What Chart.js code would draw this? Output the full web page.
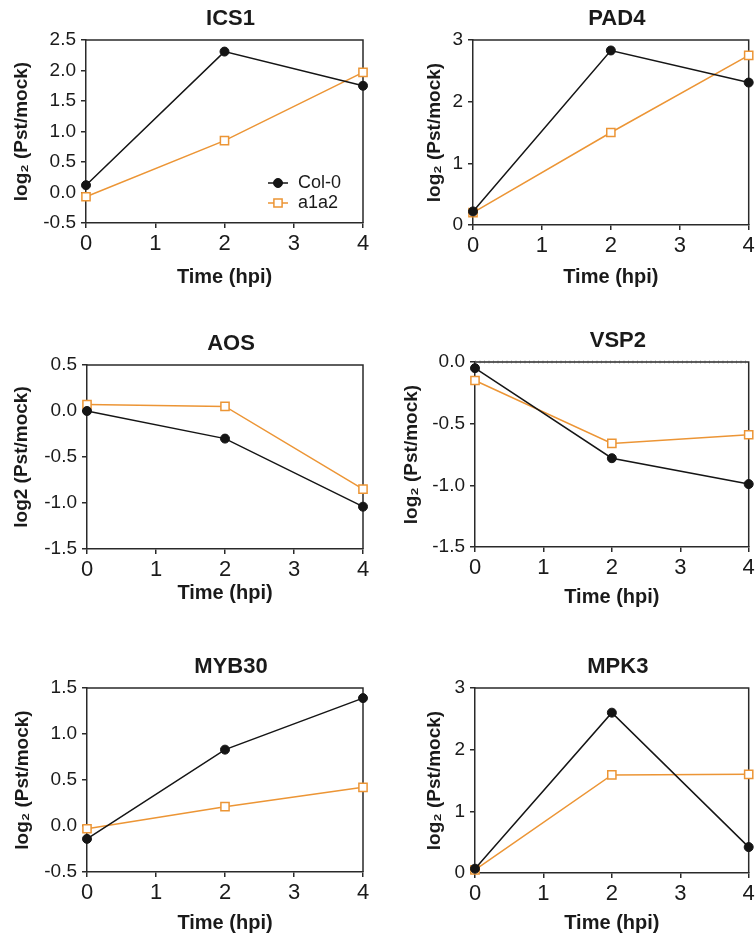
<!DOCTYPE html>
<html>
<head>
<meta charset="utf-8">
<script src="https://cdn.jsdelivr.net/npm/chart.js@4.4.1/dist/chart.umd.min.js"></script>
<style>
  body { margin: 0; background: #fff; }
  #wrap { position: relative; width: 756px; height: 941px; overflow: hidden; }
  canvas { position: absolute; }
</style>
</head>
<body>
<div id="wrap"></div>
<script>
// time points (hpi) and axis ticks
const timePoints = [0, 2, 4];
const timeTicks = [0, 1, 2, 3, 4];
const seriesNames = ['Col-0', 'a1a2'];

// log2(Pst/mock) values
const ics1Col0 = [0.12, 2.31, 1.75];
const ics1A1a2 = [-0.07, 0.85, 1.97];
const ics1Ticks = [-0.5, 0, 0.5, 1, 1.5, 2, 2.5];

const pad4Col0 = [0.22, 2.83, 2.31];
const pad4A1a2 = [0.2, 1.5, 2.75];
const pad4Ticks = [0, 1, 2, 3];

const aosCol0 = [0.0, -0.3, -1.04];
const aosA1a2 = [0.07, 0.05, -0.85];
const aosTicks = [-1.5, -1, -0.5, 0, 0.5];

const vsp2Col0 = [-0.05, -0.78, -0.99];
const vsp2A1a2 = [-0.15, -0.66, -0.59];
const vsp2Ticks = [-1.5, -1, -0.5, 0];

const myb30Col0 = [-0.14, 0.83, 1.39];
const myb30A1a2 = [-0.03, 0.21, 0.42];
const myb30Ticks = [-0.5, 0, 0.5, 1, 1.5];

const mpk3Col0 = [0.07, 2.6, 0.42];
const mpk3A1a2 = [0.05, 1.59, 1.6];
const mpk3Ticks = [0, 1, 2, 3];

const BLACK = '#151515';
const ORANGE = '#EC9535';
const AXIS = '#2a2a2a';
const LOG2 = 'log\u2082 (Pst/mock)';

Chart.defaults.font.family = '"Liberation Sans", Arial, sans-serif';
Chart.defaults.color = '#1a1a1a';

// box = canvas placement, area = plot area inside the canvas
const panels = [
  { title: 'ICS1', col0: ics1Col0, a1a2: ics1A1a2, yTicks: ics1Ticks, digits: 1, yTitle: LOG2, legend: true,
    box: { x: 0, y: 0, w: 378, h: 300 }, area: { l: 86, r: 363, t: 40, b: 223 }, yTitleX: 22, xTitleY: 277 },
  { title: 'PAD4', col0: pad4Col0, a1a2: pad4A1a2, yTicks: pad4Ticks, digits: 0, yTitle: LOG2,
    box: { x: 378, y: 0, w: 378, h: 300 }, area: { l: 95, r: 374, t: 40, b: 225 }, yTitleX: 57, xTitleY: 277 },
  { title: 'AOS', col0: aosCol0, a1a2: aosA1a2, yTicks: aosTicks, digits: 1, yTitle: 'log2 (Pst/mock)',
    box: { x: 0, y: 300, w: 378, h: 320 }, area: { l: 87, r: 363, t: 65, b: 549 - 300 }, yTitleX: 22, xTitleY: 293 },
  { title: 'VSP2', col0: vsp2Col0, a1a2: vsp2A1a2, yTicks: vsp2Ticks, digits: 1, yTitle: LOG2, dottedTop: true,
    box: { x: 378, y: 300, w: 378, h: 320 }, area: { l: 97, r: 374, t: 62, b: 247 }, yTitleX: 34, xTitleY: 297 },
  { title: 'MYB30', col0: myb30Col0, a1a2: myb30A1a2, yTicks: myb30Ticks, digits: 1, yTitle: LOG2,
    box: { x: 0, y: 620, w: 378, h: 321 }, area: { l: 87, r: 363, t: 68, b: 252 }, yTitleX: 23, xTitleY: 303 },
  { title: 'MPK3', col0: mpk3Col0, a1a2: mpk3A1a2, yTicks: mpk3Ticks, digits: 0, yTitle: LOG2,
    box: { x: 378, y: 620, w: 378, h: 321 }, area: { l: 97, r: 373, t: 68, b: 253 }, yTitleX: 57, xTitleY: 303 }
];

const panelDecor = {
  id: 'panelDecor',
  beforeDatasetsDraw(chart) {
    const p = chart.options.plugins.panelDecor.panel;
    const { ctx, chartArea: a } = chart;
    ctx.save();
    ctx.strokeStyle = AXIS;
    ctx.lineWidth = 1.5;
    ctx.beginPath();
    ctx.moveTo(a.left, a.top);
    ctx.lineTo(a.right, a.top);
    ctx.lineTo(a.right, a.bottom);
    ctx.stroke();
    if (p.dottedTop) {
      // zero line in VSP2 is drawn as a finely dashed rule
      ctx.strokeStyle = '#555';
      ctx.setLineDash([1, 3.5]);
      ctx.lineWidth = 2.5;
      ctx.beginPath();
      ctx.moveTo(a.left, a.top);
      ctx.lineTo(a.right, a.top);
      ctx.stroke();
    }
    ctx.restore();
  },
  afterDraw(chart) {
    const p = chart.options.plugins.panelDecor.panel;
    const { ctx, chartArea: a } = chart;
    ctx.save();
    ctx.fillStyle = '#1a1a1a';
    ctx.font = 'bold 22px "Liberation Sans", Arial, sans-serif';
    ctx.textAlign = 'center';
    ctx.textBaseline = 'middle';
    ctx.fillText(p.title, (a.left + a.right) / 2 + 6, a.top - 21);

    if (p.legend) {
      chart.data.datasets.forEach((ds, i) => {
        const x = a.right - 85;
        const y = a.bottom - 40 + i * 20;
        ctx.strokeStyle = ds.borderColor;
        ctx.lineWidth = 1.5;
        ctx.beginPath();
        ctx.moveTo(x - 10, y);
        ctx.lineTo(x + 10, y);
        ctx.stroke();
        ctx.fillStyle = ds.pointBackgroundColor;
        ctx.strokeStyle = ds.borderColor;
        ctx.lineWidth = ds.pointBorderWidth;
        Chart.helpers.drawPoint(ctx, { pointStyle: ds.pointStyle, radius: ds.pointRadius, borderWidth: ds.pointBorderWidth, rotation: 0 }, x, y);
        ctx.fillStyle = '#1a1a1a';
        ctx.font = '18px "Liberation Sans", Arial, sans-serif';
        ctx.textAlign = 'left';
        ctx.fillText(ds.label, x + 20, y);
      });
    }
    ctx.restore();
  }
};

const wrap = document.getElementById('wrap');

panels.forEach(p => {
  const canvas = document.createElement('canvas');
  canvas.width = p.box.w;
  canvas.height = p.box.h;
  canvas.style.left = p.box.x + 'px';
  canvas.style.top = p.box.y + 'px';
  wrap.appendChild(canvas);

  const toPoints = vals => timePoints.map((t, i) => ({ x: t, y: vals[i] }));

  new Chart(canvas, {
    type: 'line',
    data: {
      datasets: [
        {
          label: seriesNames[0],
          data: toPoints(p.col0),
          borderColor: BLACK,
          backgroundColor: BLACK,
          pointBackgroundColor: BLACK,
          pointStyle: 'circle',
          pointRadius: 4.5,
          pointBorderWidth: 1,
          borderWidth: 1.5,
          tension: 0,
          clip: false
        },
        {
          label: seriesNames[1],
          data: toPoints(p.a1a2),
          borderColor: ORANGE,
          backgroundColor: '#fff',
          pointBackgroundColor: '#fff',
          pointStyle: 'rect',
          pointRadius: 5.8,
          pointBorderWidth: 1.5,
          borderWidth: 1.5,
          tension: 0,
          clip: false
        }
      ]
    },
    options: {
      responsive: false,
      animation: false,
      devicePixelRatio: 1,
      layout: { padding: { top: p.area.t, right: p.box.w - p.area.r, left: 0, bottom: 0 } },
      plugins: {
        legend: { display: false },
        tooltip: { enabled: false },
        panelDecor: { panel: p }
      },
      scales: {
        x: {
          type: 'linear',
          min: timeTicks[0],
          max: timeTicks[timeTicks.length - 1],
          afterBuildTicks: s => { s.ticks = timeTicks.map(v => ({ value: v })); },
          afterFit: s => { s.height = p.box.h - p.area.b; s.paddingLeft = 0; s.paddingRight = 0; },
          ticks: { font: { size: 22 }, padding: 3, maxRotation: 0, callback: v => String(v) },
          grid: { drawOnChartArea: false, drawTicks: true, tickLength: 5, color: AXIS, lineWidth: 1.5 },
          border: { display: true, color: AXIS, width: 1.5 },
          title: {
            display: true, text: 'Time (hpi)',
            font: { size: 20, weight: 'bold' },
            padding: { top: 0, bottom: p.box.h - p.xTitleY - 12 }
          }
        },
        y: {
          type: 'linear',
          min: p.yTicks[0],
          max: p.yTicks[p.yTicks.length - 1],
          afterBuildTicks: s => { s.ticks = p.yTicks.map(v => ({ value: v })); },
          afterFit: s => { s.width = p.area.l; s.paddingTop = 0; s.paddingBottom = 0; },
          ticks: { font: { size: 19 }, padding: 5, callback: v => Number(v).toFixed(p.digits) },
          grid: { drawOnChartArea: false, drawTicks: true, tickLength: 5, color: AXIS, lineWidth: 1.5 },
          border: { display: true, color: AXIS, width: 1.5 },
          title: {
            display: true, text: p.yTitle,
            font: { size: 19, weight: 'bold' },
            padding: { top: p.yTitleX - 11.4, bottom: 0 }
          }
        }
      }
    },
    plugins: [panelDecor]
  });
});
</script>
</body>
</html>
